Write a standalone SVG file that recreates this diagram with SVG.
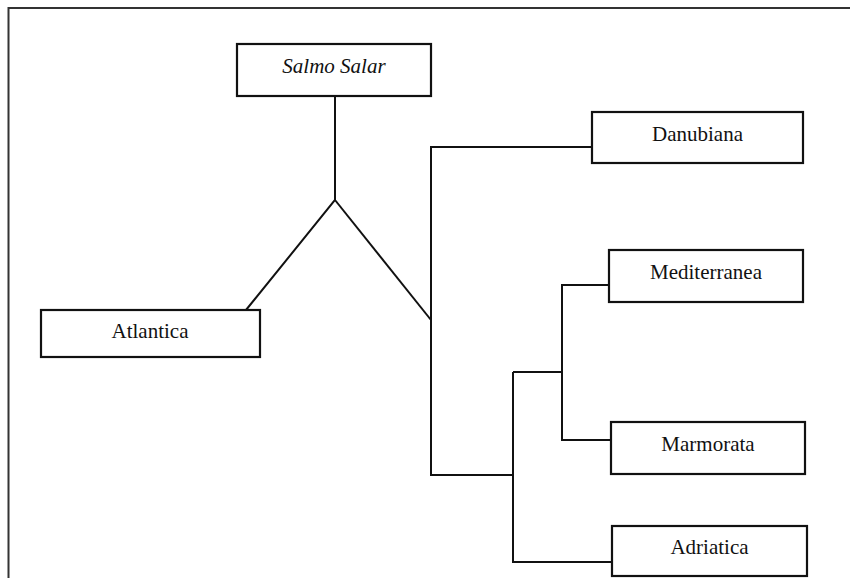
<svg xmlns="http://www.w3.org/2000/svg" width="850" height="578" viewBox="0 0 850 578">
<style>
.box{fill:#fff;stroke:#111;stroke-width:2.2}
.lbl{font-family:"Liberation Serif","Times New Roman",serif;font-size:21px;fill:#111;text-anchor:middle}
.it{font-style:italic}
.conn{fill:none;stroke:#111;stroke-width:2;stroke-linejoin:miter}
</style>
<rect x="0" y="0" width="850" height="578" fill="#fff"/>
<rect x="8.5" y="8" width="900" height="700" fill="none" stroke="#333" stroke-width="2"/>
<g id="connectors">
<path class="conn" d="M335 96 V200 L246 310"/>
<path class="conn" d="M335 200 L431 320"/>
<path class="conn" d="M592 147 H431 V475 H513"/>
<path class="conn" d="M513 372 V562 H612"/>
<path class="conn" d="M513 372 H562"/>
<path class="conn" d="M609 285 H562 V440 H611"/>
</g>
<g id="salmo-salar">
<rect class="box" x="237" y="44" width="194" height="52"/>
<text class="lbl it" x="334" y="73">Salmo Salar</text>
</g>
<g id="atlantica">
<rect class="box" x="41" y="310" width="219" height="47"/>
<text class="lbl" x="150" y="338">Atlantica</text>
</g>
<g id="danubiana">
<rect class="box" x="592" y="112" width="211" height="51"/>
<text class="lbl" x="697.5" y="141">Danubiana</text>
</g>
<g id="mediterranea">
<rect class="box" x="609" y="250" width="194" height="52"/>
<text class="lbl" x="706" y="279">Mediterranea</text>
</g>
<g id="marmorata">
<rect class="box" x="611" y="422" width="194" height="52"/>
<text class="lbl" x="708" y="451">Marmorata</text>
</g>
<g id="adriatica">
<rect class="box" x="612" y="526" width="195" height="50"/>
<text class="lbl" x="709.5" y="554">Adriatica</text>
</g>
</svg>
